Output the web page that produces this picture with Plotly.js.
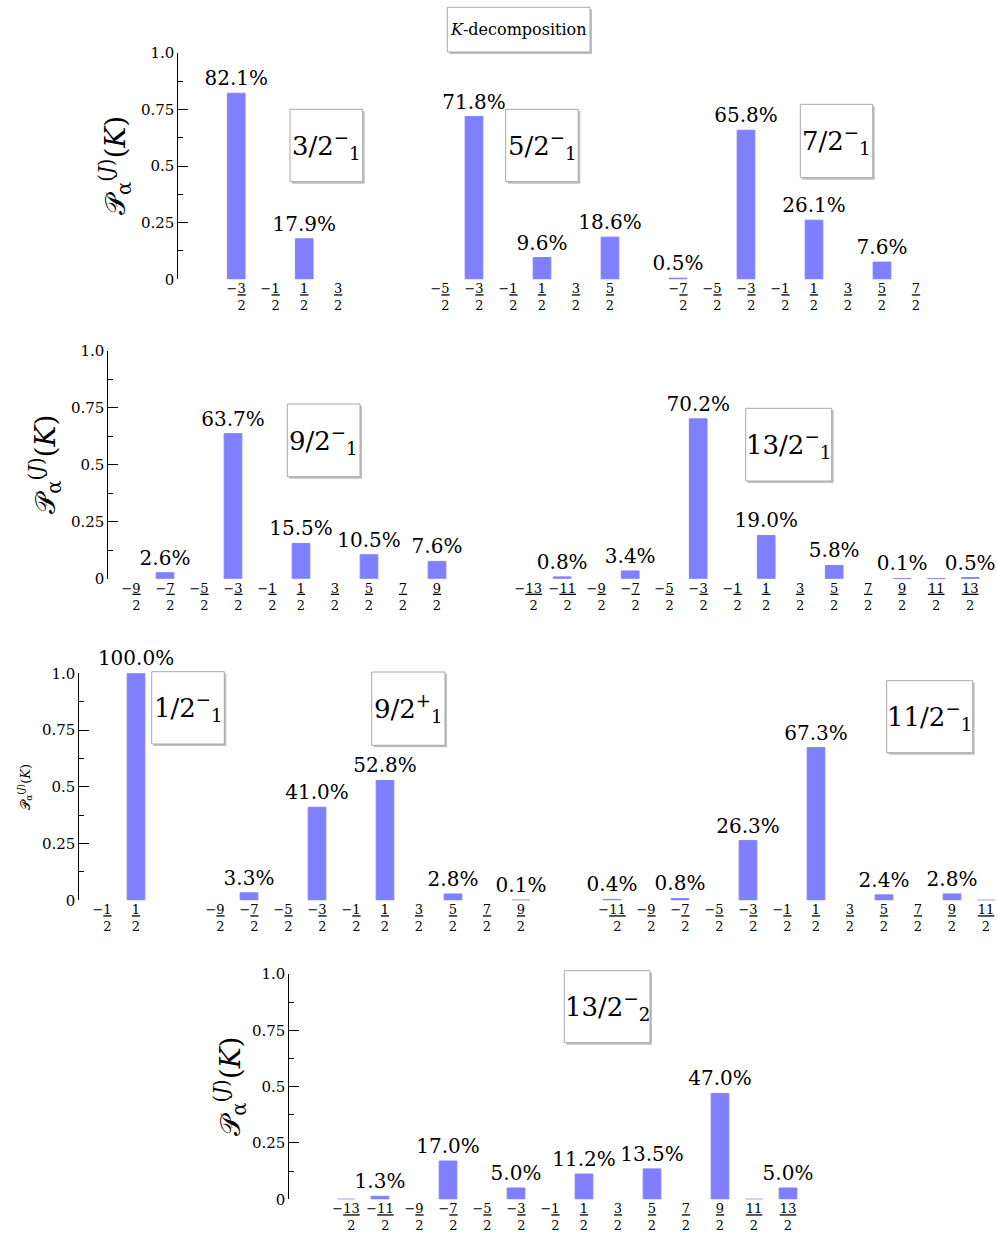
<!DOCTYPE html>
<html><head><meta charset="utf-8">
<script src="https://cdn.plot.ly/plotly-3.0.1.min.js"></script>
<style>html,body{margin:0;padding:0;background:#fff}</style>
</head><body><div id="chart" style="width:997px;height:1237px"></div>
<script>
// ---- DATA ----
// K values given as numerators of K/2
const K_1_2  = [-1, 1];
const K_3_2  = [-3, -1, 1, 3];
const K_5_2  = [-5, -3, -1, 1, 3, 5];
const K_7_2  = [-7, -5, -3, -1, 1, 3, 5, 7];
const K_9_2  = [-9, -7, -5, -3, -1, 1, 3, 5, 7, 9];
const K_11_2 = [-11, -9, -7, -5, -3, -1, 1, 3, 5, 7, 9, 11];
const K_13_2 = [-13, -11, -9, -7, -5, -3, -1, 1, 3, 5, 7, 9, 11, 13];

// K-decomposition probabilities in percent (null = no bar)
const P_3_2_1m  = [82.1, null, 17.9, null];
const P_5_2_1m  = [null, 71.8, null, 9.6, null, 18.6];
const P_7_2_1m  = [0.5, null, 65.8, null, 26.1, null, 7.6, null];
const P_9_2_1m  = [null, 2.6, null, 63.7, null, 15.5, null, 10.5, null, 7.6];
const P_13_2_1m = [null, 0.8, null, 3.4, null, 70.2, null, 19.0, null, 5.8, null, 0.1, 0.02, 0.5];
const P_1_2_1m  = [null, 100.0];
const P_9_2_1p  = [null, 3.3, null, 41.0, null, 52.8, null, 2.8, null, 0.1];
const P_11_2_1m = [0.4, null, 0.8, null, 26.3, null, 67.3, null, 2.4, null, 2.8, 0.02];
const P_13_2_2m = [0.02, 1.3, null, 17.0, null, 5.0, null, 11.2, null, 13.5, null, 47.0, 0.02, 5.0];

// State labels
const STATES = [
  '3/2<sup>−</sup><sub>1</sub>', '5/2<sup>−</sup><sub>1</sub>', '7/2<sup>−</sup><sub>1</sub>',
  '9/2<sup>−</sup><sub>1</sub>', '13/2<sup>−</sup><sub>1</sub>',
  '1/2<sup>−</sup><sub>1</sub>', '9/2<sup>+</sup><sub>1</sub>', '11/2<sup>−</sup><sub>1</sub>',
  '13/2<sup>−</sup><sub>2</sub>'
];
const Y_TICKVALS = [0, 0.25, 0.5, 0.75, 1];
const Y_TICKTEXT = ['0', '0.25', '0.5', '0.75', '1.0'];
const Y_MINOR = [0.125, 0.375, 0.625, 0.875];
const Y_TITLE = '𝒫<sub>α</sub><sup>(<i>J</i>)</sup>(<i>K</i>)';
const HEADER = '<i>K</i>-decomposition';

// ---- LAYOUT CONSTANTS ----
const W = 997, H = 1237, SP = 34;
const FONT = 'DejaVu Serif';
const BAR = '#8080ff';
const fx = v => v / W, fy = v => 1 - v / H;
const rows = [[52.7, 279.3], [351, 578.7], [673.3, 900.3], [974, 1199.3]];
const rowFirst = [0, 3, 5, 8];
const rowTitle = [{x: 116, s: 28}, {x: 46, s: 28}, {x: 25, s: 13}, {x: 231, s: 28}];

const panels = [
  {k: K_3_2,  p: P_3_2_1m,  row: 0, dom: [178.3, 375], c0: 236.2, box: [290, 109.3, 362.7, 181.7]},
  {k: K_5_2,  p: P_5_2_1m,  row: 0, dom: [400, 640],   c0: 440,   box: [505.7, 109.3, 578.3, 181.7]},
  {k: K_7_2,  p: P_7_2_1m,  row: 0, dom: [650, 945],   c0: 678,   box: [800.3, 104.3, 872.7, 177.7]},
  {k: K_9_2,  p: P_9_2_1m,  row: 1, dom: [108.3, 470], c0: 131,   box: [287.3, 404, 360, 476.7]},
  {k: K_13_2, p: P_13_2_1m, row: 1, dom: [490, 995],   c0: 528.2, box: [745.7, 408.3, 831.7, 481]},
  {k: K_1_2,  p: P_1_2_1m,  row: 2, dom: [79.3, 165],  c0: 102,   box: [151.7, 671.7, 224.3, 744]},
  {k: K_9_2,  p: P_9_2_1p,  row: 2, dom: [180, 555],   c0: 215,   box: [371.7, 672, 445, 745.3]},
  {k: K_11_2, p: P_11_2_1m, row: 2, dom: [575, 997],   c0: 612,   box: [886.7, 680.7, 972.7, 752.7]},
  {k: K_13_2, p: P_13_2_2m, row: 3, dom: [289.3, 830], c0: 346,   box: [564.3, 970.7, 650, 1042.7]}
];

const PAD = '\u2007\u2009';
function frac(n) {
  const a = Math.abs(n);
  return (n < 0 ? '−' : '') + '<u>' + a + '</u><br>' + (n < 0 ? PAD : '') + '2';
}

const data = [];
const layout = {
  width: W, height: H, autosize: false,
  margin: {l: 0, r: 0, t: 0, b: 0, pad: 0},
  paper_bgcolor: '#fff', plot_bgcolor: 'rgba(0,0,0,0)',
  showlegend: false,
  font: {family: FONT, color: '#000'},
  shapes: [], annotations: []
};

const yid = r => r === 0 ? 'y' : 'y' + (r + 1);
const xid = i => i === 0 ? 'x' : 'x' + (i + 1);
const lkey = id => id.replace('x', 'xaxis').replace('y', 'yaxis');

rows.forEach((rw, r) => {
  layout[lkey(yid(r))] = {
    domain: [fy(rw[1]), fy(rw[0])],
    range: [0, 1],
    anchor: xid(rowFirst[r]),
    showline: true, linecolor: '#000', linewidth: 1,
    ticks: 'inside', ticklen: 10, tickwidth: 1, tickcolor: '#000',
    tickmode: 'array', tickvals: Y_TICKVALS, ticktext: Y_TICKTEXT,
    tickfont: {family: FONT, size: 15, color: '#000'},
    minor: {tickmode: 'array', tickvals: Y_MINOR, ticks: 'inside', ticklen: 5, tickwidth: 1, tickcolor: '#000'},
    showgrid: false, zeroline: false, fixedrange: true
  };
  layout.annotations.push({
    xref: 'paper', yref: 'paper', x: fx(rowTitle[r].x), y: fy((rw[0] + rw[1]) / 2),
    xanchor: 'center', yanchor: 'middle', textangle: -90, showarrow: false,
    text: Y_TITLE, font: {family: FONT, size: rowTitle[r].s, color: '#000'}
  });
});

panels.forEach((pn, i) => {
  const xs = pn.k.map(n => n / 2);
  const k0 = xs[0];
  const xa = xid(i), ya = yid(pn.row);
  layout[lkey(xa)] = {
    domain: [fx(pn.dom[0]), fx(pn.dom[1])],
    range: [k0 - (pn.c0 - pn.dom[0]) / SP, k0 + (pn.dom[1] - pn.c0) / SP],
    anchor: ya,
    showline: false, ticks: '', showgrid: false, zeroline: false,
    tickmode: 'array', tickvals: xs, ticktext: pn.k.map(frac),
    tickfont: {family: FONT, size: 13, color: '#000'},
    fixedrange: true
  };
  data.push({
    type: 'bar', x: xs, y: pn.p.map(v => v == null ? null : v / 100),
    xaxis: xa, yaxis: ya, width: 0.52,
    marker: {color: BAR, line: {color: BAR, width: 1}},
    text: pn.p.map(v => (v != null && v >= 0.05) ? v.toFixed(1) + '%' : ''),
    textposition: 'outside', textangle: 0, constraintext: 'none', cliponaxis: false,
    textfont: {family: FONT, size: 20, color: '#000'},
    hoverinfo: 'skip'
  });
  const b = pn.box;
  layout.shapes.push({type: 'rect', xref: 'paper', yref: 'paper', layer: 'above',
    x0: fx(b[0] + 2), x1: fx(b[2] + 2), y0: fy(b[3] + 2), y1: fy(b[1] + 2),
    fillcolor: '#c0c0c0', line: {width: 0}});
  layout.shapes.push({type: 'rect', xref: 'paper', yref: 'paper', layer: 'above',
    x0: fx(b[0]), x1: fx(b[2]), y0: fy(b[3]), y1: fy(b[1]),
    fillcolor: '#fff', line: {color: '#a8a8a8', width: 1}});
  layout.annotations.push({
    xref: 'paper', yref: 'paper', x: fx((b[0] + b[2]) / 2), y: fy((b[1] + b[3]) / 2),
    xanchor: 'center', yanchor: 'middle', showarrow: false,
    text: STATES[i], font: {family: FONT, size: 26, color: '#000'}
  });
});

// header box
const hb = [447.3, 7.3, 590, 52];
layout.shapes.push({type: 'rect', xref: 'paper', yref: 'paper', layer: 'above',
  x0: fx(hb[0] + 2), x1: fx(hb[2] + 2), y0: fy(hb[3] + 2), y1: fy(hb[1] + 2),
  fillcolor: '#c0c0c0', line: {width: 0}});
layout.shapes.push({type: 'rect', xref: 'paper', yref: 'paper', layer: 'above',
  x0: fx(hb[0]), x1: fx(hb[2]), y0: fy(hb[3]), y1: fy(hb[1]),
  fillcolor: '#fff', line: {color: '#a8a8a8', width: 1}});
layout.annotations.push({
  xref: 'paper', yref: 'paper', x: fx((hb[0] + hb[2]) / 2), y: fy((hb[1] + hb[3]) / 2),
  xanchor: 'center', yanchor: 'middle', showarrow: false,
  text: HEADER, font: {family: FONT, size: 16, color: '#000'}
});

Plotly.newPlot('chart', data, layout, {staticPlot: true, displayModeBar: false});
</script></body></html>
